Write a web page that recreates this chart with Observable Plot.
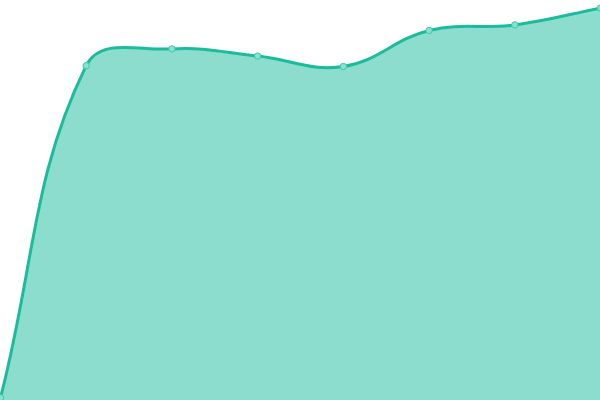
<!DOCTYPE html>
<html>
<head>
<meta charset="utf-8">
<style>
html,body{margin:0;padding:0;background:#fff;overflow:hidden;}
</style>
<script src="https://cdn.jsdelivr.net/npm/d3@7"></script>
<script src="https://cdn.jsdelivr.net/npm/@observablehq/plot@0.6"></script>
</head>
<body>
<div id="chart"></div>
<script>
const steps = [0, 1, 2, 3, 4, 5, 6, 7];
const values = [0.7, 83.7, 87.9, 86.1, 83.5, 92.5, 93.9, 98.1];

const data = steps.map((s, i) => ({step: s, value: values[i]}));

// Tension-based spline (distance-weighted control points), as a d3-style curve factory
function tensionCurve(tension) {
  function Curve(context) { this._context = context; }
  Curve.prototype = {
    areaStart() { this._line = 0; },
    areaEnd() { this._line = NaN; },
    lineStart() { this._pts = []; },
    point(x, y) { this._pts.push([+x, +y]); },
    lineEnd() {
      const p = this._pts, n = p.length, c = this._context;
      if (n) {
        if (this._line) c.lineTo(p[0][0], p[0][1]); else c.moveTo(p[0][0], p[0][1]);
        const before = [], after = [];
        for (let i = 0; i < n; i++) {
          const prev = p[i - 1] || p[i], cur = p[i], next = p[i + 1] || p[i];
          const d01 = Math.hypot(cur[0] - prev[0], cur[1] - prev[1]);
          const d12 = Math.hypot(next[0] - cur[0], next[1] - cur[1]);
          let s01 = d01 / (d01 + d12), s12 = d12 / (d01 + d12);
          if (!isFinite(s01)) s01 = 0;
          if (!isFinite(s12)) s12 = 0;
          const fa = tension * s01, fb = tension * s12;
          before.push([cur[0] - fa * (next[0] - prev[0]), cur[1] - fa * (next[1] - prev[1])]);
          after.push([cur[0] + fb * (next[0] - prev[0]), cur[1] + fb * (next[1] - prev[1])]);
        }
        for (let i = 0; i < n - 1; i++) {
          c.bezierCurveTo(after[i][0], after[i][1], before[i + 1][0], before[i + 1][1], p[i + 1][0], p[i + 1][1]);
        }
      }
      if (this._line || (this._line !== 0 && n === 1)) c.closePath();
      this._line = 1 - this._line;
    }
  };
  return (context) => new Curve(context);
}
const curve = tensionCurve(0.4);

const chart = Plot.plot({
  width: 600,
  height: 400,
  margin: 0,
  x: {domain: [0, 7], range: [0, 600], axis: null},
  y: {domain: [0, 100], range: [400, 0], axis: null},
  marks: [
    Plot.areaY(data, {x: "step", y1: -5, y2: "value", curve, fill: "#1abc9c", fillOpacity: 0.5}),
    Plot.lineY(data, {x: "step", y: "value", curve, stroke: "#1abc9c", strokeWidth: 3}),
    Plot.dot(data, {x: "step", y: "value", r: 3.2, fill: "#88e0cf", stroke: "#3cc9ac", strokeWidth: 1})
  ]
});
document.getElementById("chart").appendChild(chart);
</script>
</body>
</html>
